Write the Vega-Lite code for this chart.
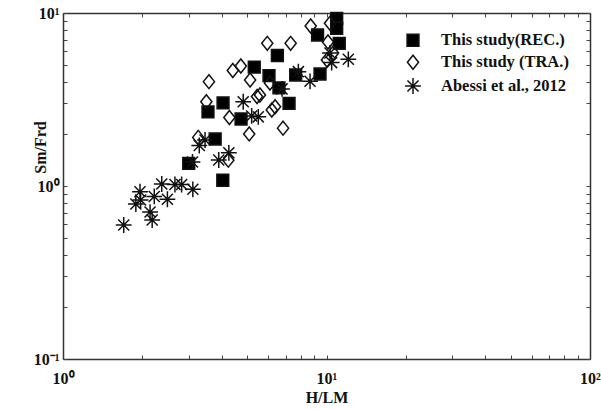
{
  "$schema": "https://vega.github.io/schema/vega-lite/v6.json",
  "width": 527,
  "height": 346,
  "autosize": "none",
  "padding": {"left": 63, "top": 13, "right": 11, "bottom": 51},
  "background": "white",
  "config": {
    "view": {"stroke": null},
    "font": "Liberation Serif",
    "axis": {"grid": false, "domainColor": "#333", "domainWidth": 1.5, "tickColor": "#444", "tickWidth": 1, "labelFont": "Liberation Serif", "labelFontWeight": "bold", "labelFontSize": 16, "labelColor": "#111", "titleFont": "Liberation Serif", "titleFontWeight": "bold", "titleFontSize": 16, "titleColor": "#111", "labelOverlap": false, "labelFlush": false},
    "legend": {"labelFont": "Liberation Serif", "labelFontWeight": "bold", "labelFontSize": 16.5, "labelColor": "#111"}
  },
  "data": {"values": [
    {"series": "This study(REC.)", "x": 10.93, "y": 9.32},
    {"series": "This study(REC.)", "x": 10.93, "y": 8.16},
    {"series": "This study(REC.)", "x": 9.25, "y": 7.46},
    {"series": "This study(REC.)", "x": 11.18, "y": 6.68},
    {"series": "This study(REC.)", "x": 6.51, "y": 5.68},
    {"series": "This study(REC.)", "x": 5.32, "y": 4.87},
    {"series": "This study(REC.)", "x": 6.05, "y": 4.35},
    {"series": "This study(REC.)", "x": 7.64, "y": 4.38},
    {"series": "This study(REC.)", "x": 9.45, "y": 4.44},
    {"series": "This study(REC.)", "x": 6.60, "y": 3.69},
    {"series": "This study(REC.)", "x": 7.21, "y": 3.0},
    {"series": "This study(REC.)", "x": 4.05, "y": 3.02},
    {"series": "This study(REC.)", "x": 3.55, "y": 2.68},
    {"series": "This study(REC.)", "x": 4.74, "y": 2.44},
    {"series": "This study(REC.)", "x": 3.78, "y": 1.87},
    {"series": "This study(REC.)", "x": 3.0, "y": 1.35},
    {"series": "This study(REC.)", "x": 4.04, "y": 1.08},
    {"series": "This study (TRA.)", "x": 8.71, "y": 8.41},
    {"series": "This study (TRA.)", "x": 10.31, "y": 8.72},
    {"series": "This study (TRA.)", "x": 5.96, "y": 6.68},
    {"series": "This study (TRA.)", "x": 7.31, "y": 6.68},
    {"series": "This study (TRA.)", "x": 10.13, "y": 6.8},
    {"series": "This study (TRA.)", "x": 10.59, "y": 5.87},
    {"series": "This study (TRA.)", "x": 10.04, "y": 5.35},
    {"series": "This study (TRA.)", "x": 4.73, "y": 4.94},
    {"series": "This study (TRA.)", "x": 4.41, "y": 4.65},
    {"series": "This study (TRA.)", "x": 3.58, "y": 4.01},
    {"series": "This study (TRA.)", "x": 5.13, "y": 4.1},
    {"series": "This study (TRA.)", "x": 6.10, "y": 3.94},
    {"series": "This study (TRA.)", "x": 3.50, "y": 3.07},
    {"series": "This study (TRA.)", "x": 5.45, "y": 3.29},
    {"series": "This study (TRA.)", "x": 5.59, "y": 3.36},
    {"series": "This study (TRA.)", "x": 4.28, "y": 2.49},
    {"series": "This study (TRA.)", "x": 6.20, "y": 2.75},
    {"series": "This study (TRA.)", "x": 6.38, "y": 2.87},
    {"series": "This study (TRA.)", "x": 5.09, "y": 2.0},
    {"series": "This study (TRA.)", "x": 6.84, "y": 2.16},
    {"series": "This study (TRA.)", "x": 3.26, "y": 1.91},
    {"series": "This study (TRA.)", "x": 4.24, "y": 1.41},
    {"series": "Abessi et al., 2012", "x": 1.70, "y": 0.595},
    {"series": "Abessi et al., 2012", "x": 2.18, "y": 0.636},
    {"series": "Abessi et al., 2012", "x": 2.14, "y": 0.707},
    {"series": "Abessi et al., 2012", "x": 1.89, "y": 0.787},
    {"series": "Abessi et al., 2012", "x": 1.97, "y": 0.83},
    {"series": "Abessi et al., 2012", "x": 1.96, "y": 0.927},
    {"series": "Abessi et al., 2012", "x": 2.22, "y": 0.87},
    {"series": "Abessi et al., 2012", "x": 2.49, "y": 0.838},
    {"series": "Abessi et al., 2012", "x": 2.37, "y": 1.027},
    {"series": "Abessi et al., 2012", "x": 2.66, "y": 1.02},
    {"series": "Abessi et al., 2012", "x": 2.82, "y": 1.02},
    {"series": "Abessi et al., 2012", "x": 3.11, "y": 0.957},
    {"series": "Abessi et al., 2012", "x": 3.29, "y": 1.714},
    {"series": "Abessi et al., 2012", "x": 3.46, "y": 1.845},
    {"series": "Abessi et al., 2012", "x": 3.10, "y": 1.376},
    {"series": "Abessi et al., 2012", "x": 3.90, "y": 1.413},
    {"series": "Abessi et al., 2012", "x": 4.26, "y": 1.555},
    {"series": "Abessi et al., 2012", "x": 4.83, "y": 3.07},
    {"series": "Abessi et al., 2012", "x": 5.20, "y": 2.54},
    {"series": "Abessi et al., 2012", "x": 5.51, "y": 2.51},
    {"series": "Abessi et al., 2012", "x": 6.78, "y": 3.64},
    {"series": "Abessi et al., 2012", "x": 7.82, "y": 4.58},
    {"series": "Abessi et al., 2012", "x": 8.66, "y": 4.03},
    {"series": "Abessi et al., 2012", "x": 10.46, "y": 5.17},
    {"series": "Abessi et al., 2012", "x": 12.10, "y": 5.4},
    {"series": "Abessi et al., 2012", "x": 10.31, "y": 5.87}
  ]},
  "layer": [
    {
      "mark": {"type": "point", "filled": true, "stroke": "#111", "strokeWidth": 1.5, "opacity": 1},
      "encoding": {
        "x": {"field": "x", "type": "quantitative", "scale": {"type": "log", "domain": [1, 100], "nice": false},
          "axis": {"title": "H/LM", "orient": "bottom", "values": [1,2,3,4,5,6,7,8,9,10,20,30,40,50,60,70,80,90,100], "tickSize": -4, "labelPadding": 15,
            "titleX": 263.5, "titleY": 38, "titleBaseline": "middle",
            "labelExpr": "datum.value == 1 ? '10⁰' : datum.value == 10 ? '10¹' : datum.value == 100 ? '10²' : ''"}},
        "y": {"field": "y", "type": "quantitative", "scale": {"type": "log", "domain": [0.1, 10], "nice": false},
          "axis": {"title": "Sm/Frd", "orient": "left", "values": [0.1,0.2,0.3,0.4,0.5,0.6,0.7,0.8,0.9,1,2,3,4,5,6,7,8,9,10], "tickSize": -4, "labelPadding": 8,
            "titleX": -23, "titleY": 134, "titleBaseline": "middle",
            "labelExpr": "datum.value == 0.1 ? '10⁻¹' : datum.value == 1 ? '10⁰' : datum.value == 10 ? '10¹' : ''"}},
        "shape": {"field": "series", "type": "nominal", "sort": ["This study(REC.)", "This study (TRA.)", "Abessi et al., 2012"],
          "scale": {"domain": ["This study(REC.)", "This study (TRA.)", "Abessi et al., 2012"], "range": ["square", "M-0.8,0L0,-1L0.8,0L0,1Z", "M-1,0L1,0M0,-1L0,1M-0.7,-0.7L0.7,0.7M-0.7,0.7L0.7,-0.7"]},
          "legend": {"title": null, "orient": "none", "legendX": 341, "legendY": 19, "labelOffset": 19, "rowPadding": 2, "symbolStrokeColor": "#111", "symbolStrokeWidth": 1.5}},
        "fill": {"field": "series", "type": "nominal",
          "scale": {"domain": ["This study(REC.)", "This study (TRA.)", "Abessi et al., 2012"], "range": ["#000000", "transparent", "transparent"]}},
        "size": {"field": "series", "type": "nominal",
          "scale": {"domain": ["This study(REC.)", "This study (TRA.)", "Abessi et al., 2012"], "range": [140, 250, 170]}}
      }
    },
    {
      "mark": {"type": "point", "opacity": 0},
      "encoding": {
        "x": {"field": "x", "type": "quantitative",
          "axis": {"title": null, "orient": "top", "values": [1,2,3,4,5,6,7,8,9,10,20,30,40,50,60,70,80,90,100], "tickSize": -4, "labels": false}},
        "y": {"field": "y", "type": "quantitative",
          "axis": {"title": null, "orient": "right", "values": [0.1,0.2,0.3,0.4,0.5,0.6,0.7,0.8,0.9,1,2,3,4,5,6,7,8,9,10], "tickSize": -4, "labels": false}}
      }
    }
  ],
  "resolve": {"axis": {"x": "independent", "y": "independent"}}
}
